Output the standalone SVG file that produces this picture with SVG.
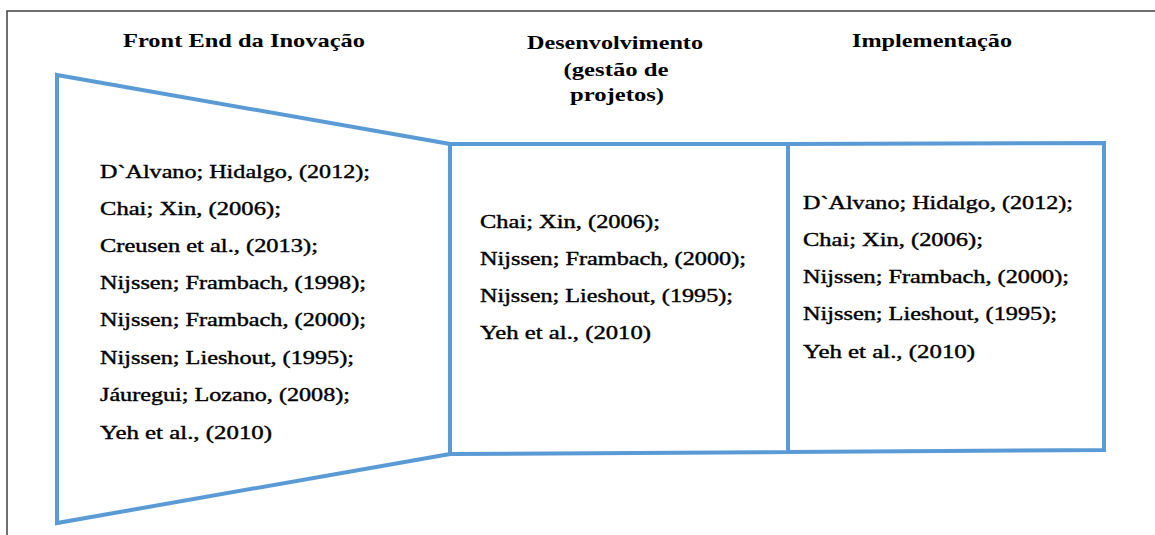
<svg xmlns="http://www.w3.org/2000/svg" width="1155" height="535" viewBox="0 0 1155 535">
<style>
.frame{fill:none;stroke:#404040;stroke-width:1.5}
.shape{fill:none;stroke:#5B9BD5;stroke-width:4;stroke-linejoin:miter}
.h{font-weight:bold;font-size:19px;fill:#000;text-anchor:middle}
.t{font-size:19px;fill:#000;stroke:#000;stroke-width:0.4}
</style>
<rect width="1155" height="535" fill="#fff"/>
<path class="frame" d="M7,535 V11 H1155"/>
<g id="headers" font-family="Liberation Serif, Times New Roman, Times, serif">
<text class="h" x="244" y="47" textLength="242" lengthAdjust="spacingAndGlyphs">Front End da Inovação</text>
<text class="h" x="615" y="49" textLength="176" lengthAdjust="spacingAndGlyphs">Desenvolvimento</text>
<text class="h" x="616" y="76" textLength="105" lengthAdjust="spacingAndGlyphs">(gestão de</text>
<text class="h" x="617" y="101" textLength="94" lengthAdjust="spacingAndGlyphs">projetos)</text>
<text class="h" x="932" y="47" textLength="160" lengthAdjust="spacingAndGlyphs">Implementação</text>
</g>
<g id="front-end" font-family="Liberation Serif, Times New Roman, Times, serif">
<path class="shape" d="M57,75 L450,144 L450,454 L57,523 Z"/>
<text class="t" x="100" y="178" textLength="270" lengthAdjust="spacingAndGlyphs">D`Alvano; Hidalgo, (2012);</text>
<text class="t" x="100" y="215" textLength="181" lengthAdjust="spacingAndGlyphs">Chai; Xin, (2006);</text>
<text class="t" x="100" y="252" textLength="218" lengthAdjust="spacingAndGlyphs">Creusen et al., (2013);</text>
<text class="t" x="100" y="289" textLength="266" lengthAdjust="spacingAndGlyphs">Nijssen; Frambach, (1998);</text>
<text class="t" x="100" y="326" textLength="266" lengthAdjust="spacingAndGlyphs">Nijssen; Frambach, (2000);</text>
<text class="t" x="100" y="364" textLength="254" lengthAdjust="spacingAndGlyphs">Nijssen; Lieshout, (1995);</text>
<text class="t" x="100" y="401" textLength="250" lengthAdjust="spacingAndGlyphs">Jáuregui; Lozano, (2008);</text>
<text class="t" x="100" y="439" textLength="172" lengthAdjust="spacingAndGlyphs">Yeh et al., (2010)</text>
</g>
<g id="desenvolvimento" font-family="Liberation Serif, Times New Roman, Times, serif">
<path class="shape" d="M450,144 L788,144 L788,452 L450,454"/>
<text class="t" x="480" y="228" textLength="180" lengthAdjust="spacingAndGlyphs">Chai; Xin, (2006);</text>
<text class="t" x="480" y="265" textLength="266" lengthAdjust="spacingAndGlyphs">Nijssen; Frambach, (2000);</text>
<text class="t" x="480" y="302" textLength="253" lengthAdjust="spacingAndGlyphs">Nijssen; Lieshout, (1995);</text>
<text class="t" x="480" y="339" textLength="171" lengthAdjust="spacingAndGlyphs">Yeh et al., (2010)</text>
</g>
<g id="implementacao" font-family="Liberation Serif, Times New Roman, Times, serif">
<path class="shape" d="M788,144 L1104,143 L1104,450 L788,452"/>
<text class="t" x="803" y="209" textLength="270" lengthAdjust="spacingAndGlyphs">D`Alvano; Hidalgo, (2012);</text>
<text class="t" x="803" y="246" textLength="180" lengthAdjust="spacingAndGlyphs">Chai; Xin, (2006);</text>
<text class="t" x="803" y="283" textLength="266" lengthAdjust="spacingAndGlyphs">Nijssen; Frambach, (2000);</text>
<text class="t" x="803" y="320" textLength="254" lengthAdjust="spacingAndGlyphs">Nijssen; Lieshout, (1995);</text>
<text class="t" x="803" y="358" textLength="172" lengthAdjust="spacingAndGlyphs">Yeh et al., (2010)</text>
</g>
<g id="connectors"/>
</svg>
